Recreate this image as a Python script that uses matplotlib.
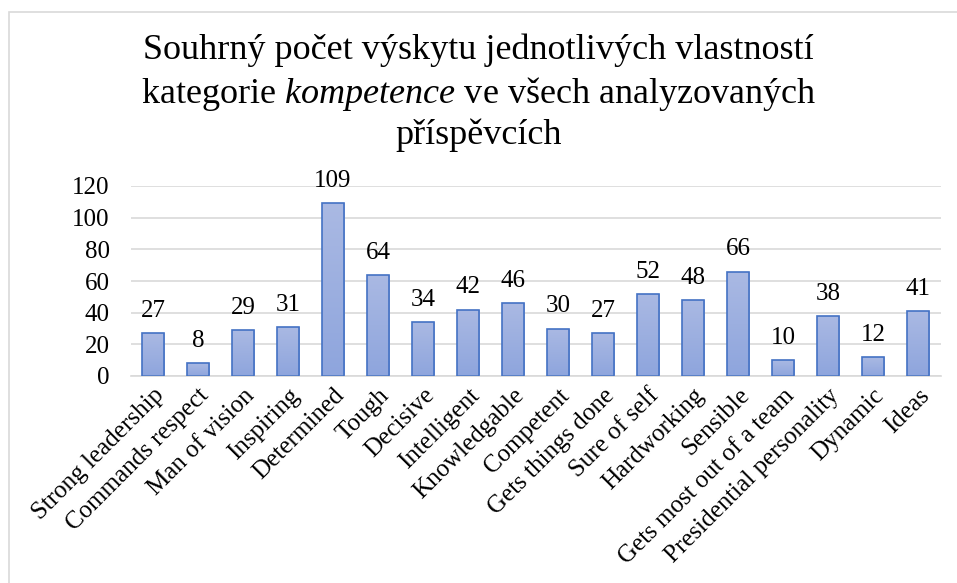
import numpy as np
import matplotlib.pyplot as plt
from matplotlib.patches import Rectangle

categories = ['Strong leadership', 'Commands respect', 'Man of vision', 'Inspiring',
              'Determined', 'Tough', 'Decisive', 'Intelligent', 'Knowledgable',
              'Competent', 'Gets things done', 'Sure of self', 'Hardworking',
              'Sensible', 'Gets most out of a team', 'Presidential personality',
              'Dynamic', 'Ideas']
counts = [27, 8, 29, 31, 109, 64, 34, 42, 46, 30, 27, 52, 48, 66, 10, 38, 12, 41]
yticks = [0, 20, 40, 60, 80, 100, 120]

plt.rcParams['font.family'] = ['Liberation Serif', 'DejaVu Serif']
plt.rcParams['mathtext.fontset'] = 'custom'
plt.rcParams['mathtext.rm'] = 'Liberation Serif'
plt.rcParams['mathtext.it'] = 'Liberation Serif:italic'

fig = plt.figure(figsize=(9.57, 5.83), dpi=100)
ax = fig.add_axes([130.5 / 957, 1 - 376 / 583, 810 / 957, 190 / 583])

# outer chart frame (runs off the right and bottom edges)
fig.patches.append(Rectangle((9 / 957, -0.05), 1.2, 1 - 12 / 583 + 0.05,
                             transform=fig.transFigure, fill=False,
                             edgecolor='#d9d9d9', linewidth=1.2))

x = np.arange(len(categories))
bars = ax.bar(x, counts, width=0.5, color='none', edgecolor='#4472c4',
              linewidth=1.2, zorder=3)

# vertical gradient inside each bar
grad = np.linspace(0, 1, 256).reshape(-1, 1)
cmap = plt.matplotlib.colors.LinearSegmentedColormap.from_list(
    'bar', ['#8ea5dd', '#aab9e3'])
for b in bars:
    x0, w, h = b.get_x(), b.get_width(), b.get_height()
    im = ax.imshow(grad, extent=[x0, x0 + w, 0, h], origin='lower',
                   cmap=cmap, aspect='auto', zorder=2)
    im.set_clip_path(b)

for xi, v in zip(x, counts):
    ax.text(xi, v + 7, str(v), ha='center', va='bottom', fontsize=18)

ax.set_xlim(-0.5, len(categories) - 0.5)
ax.set_ylim(0, 120)
ax.set_yticks(yticks)
ax.tick_params(axis='y', length=0, labelsize=18, pad=15)
ax.set_xticks(x)
ax.set_xticklabels(categories, rotation=45, ha='right', rotation_mode='anchor',
                   fontsize=18)
ax.tick_params(axis='x', length=0, pad=6)
ax.grid(axis='y', color='#d9d9d9', linewidth=1.2, zorder=0)
for s in ['top', 'right', 'left']:
    ax.spines[s].set_visible(False)
ax.spines['bottom'].set_color('#d9d9d9')
ax.spines['bottom'].set_linewidth(1.2)
ax.set_axisbelow(True)

fig.text(0.5, 1 - 50 / 583,
         'Souhrný počet výskytu jednotlivých vlastností', ha='center',
         va='center', fontsize=26)
fig.text(0.5, 1 - 94 / 583,
         r'kategorie $\mathit{kompetence}$ ve všech analyzovaných', ha='center',
         va='center', fontsize=26)
fig.text(0.5, 1 - 135 / 583, 'příspěvcích', ha='center', va='center',
         fontsize=26)

fig.savefig('out.png', dpi=100)
